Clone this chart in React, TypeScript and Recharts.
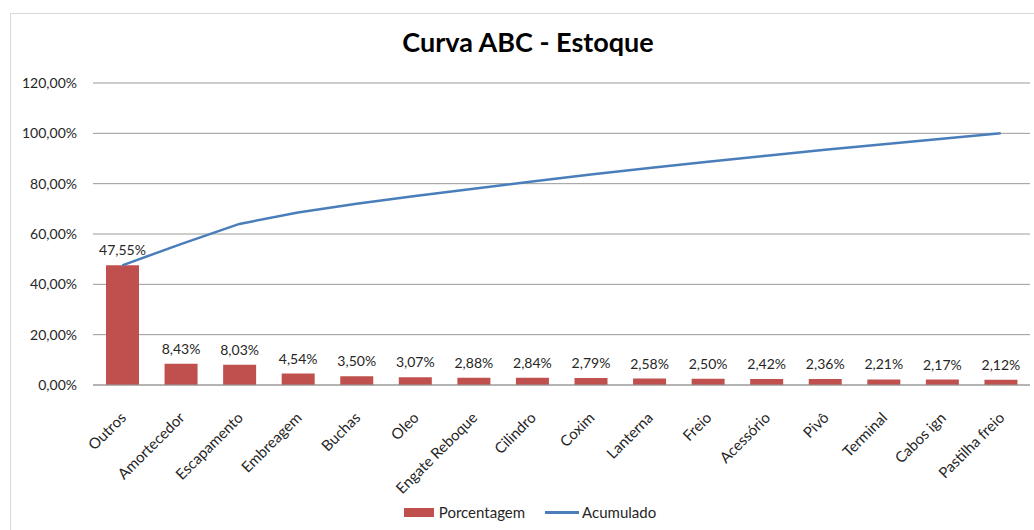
import {
  ComposedChart,
  Bar,
  Line,
  XAxis,
  YAxis,
  CartesianGrid,
  Legend,
  LabelList,
} from 'recharts';

const categorias = [
  'Outros',
  'Amortecedor',
  'Escapamento',
  'Embreagem',
  'Buchas',
  'Oleo',
  'Engate Reboque',
  'Cilindro',
  'Coxim',
  'Lanterna',
  'Freio',
  'Acessório',
  'Pivô',
  'Terminal',
  'Cabos ign',
  'Pastilha freio',
];

const porcentagem = [
  47.55, 8.43, 8.03, 4.54, 3.5, 3.07, 2.88, 2.84, 2.79, 2.58, 2.5, 2.42, 2.36,
  2.21, 2.17, 2.12,
];

const acumulado = [
  47.55, 55.98, 64.01, 68.55, 72.05, 75.12, 78.0, 80.84, 83.63, 86.21, 88.71,
  91.13, 93.49, 95.7, 97.87, 100.0,
];

const yTicks = [0, 20, 40, 60, 80, 100, 120];

const data = categorias.map((nome, i) => ({
  nome,
  porcentagem: porcentagem[i],
  acumulado: acumulado[i],
}));

const fonte = 'Lato, "Open Sans", sans-serif';
const corTexto = '#262626';
const corBarra = '#C0504D';
const corLinha = '#4A7EBB';

const fmt = (v: number) => `${v.toFixed(2).replace('.', ',')}%`;

function TickX(props: any) {
  const { x, y, payload } = props;
  return (
    <g transform={`translate(${x + 1},${y + 22})`}>
      <text
        x={0}
        y={0}
        dy="0.35em"
        textAnchor="end"
        transform="rotate(-45)"
        fill={corTexto}
        fontSize={15}
        fontFamily={fonte}
      >
        {payload.value}
      </text>
    </g>
  );
}

function Legenda(props: any) {
  const itens = [...(props.payload || [])].sort((a: any, b: any) =>
    a.type === 'rect' ? -1 : b.type === 'rect' ? 1 : 0
  );
  return (
    <div
      style={{
        display: 'flex',
        justifyContent: 'center',
        alignItems: 'center',
        height: 24,
        paddingLeft: 50,
        fontFamily: fonte,
        fontSize: 15,
        color: corTexto,
      }}
    >
      {itens.map((item: any) => (
        <div
          key={item.value}
          style={{ display: 'flex', alignItems: 'center', marginRight: 20 }}
        >
          {item.type === 'rect' ? (
            <span
              style={{
                display: 'inline-block',
                width: 30,
                height: 9,
                background: item.color,
                marginRight: 5,
              }}
            />
          ) : (
            <span
              style={{
                display: 'inline-block',
                width: 34,
                height: 3,
                background: item.color,
                marginRight: 3,
              }}
            />
          )}
          {item.value}
        </div>
      ))}
    </div>
  );
}

export default function App() {
  return (
    <div
      style={{
        position: 'absolute',
        left: 0,
        top: 0,
        width: 1034,
        height: 530,
        overflow: 'hidden',
        background: '#fff',
      }}
    >
      <div
        style={{
          position: 'absolute',
          left: 10,
          top: 13,
          width: 1100,
          height: 600,
          border: '1px solid #d9d9d9',
        }}
      />
      <div
        style={{
          position: 'absolute',
          left: 11,
          top: 25,
          width: 1034,
          textAlign: 'center',
          fontFamily: fonte,
          fontWeight: 700,
          fontSize: 27,
          color: '#000',
        }}
      >
        Curva ABC - Estoque
      </div>
      <div style={{ position: 'absolute', left: 0, top: 0 }}>
        <ComposedChart
          width={1034}
          height={530}
          data={data}
          margin={{ top: 83, right: 4, left: 0, bottom: 6 }}
        >
          <CartesianGrid vertical={false} stroke="#9a9a9a" strokeWidth={1} />
          <XAxis
            dataKey="nome"
            interval={0}
            height={115}
            tickLine={false}
            axisLine={{ stroke: '#9a9a9a' }}
            tick={<TickX />}
          />
          <YAxis
            domain={[0, 120]}
            ticks={yTicks}
            width={93}
            axisLine={false}
            tickLine={false}
            tickMargin={10}
            tickFormatter={fmt}
            tick={{ fill: corTexto, fontSize: 14, fontFamily: fonte }}
          />
          <Legend verticalAlign="bottom" content={<Legenda />} />
          <Bar
            dataKey="porcentagem"
            name="Porcentagem"
            fill={corBarra}
            barSize={33}
            legendType="rect"
            isAnimationActive={false}
          >
            <LabelList
              dataKey="porcentagem"
              position="top"
              offset={10}
              formatter={(v: any) => fmt(Number(v))}
              fill={corTexto}
              fontSize={14}
              fontFamily={fonte}
            />
          </Bar>
          <Line
            dataKey="acumulado"
            name="Acumulado"
            type="linear"
            stroke={corLinha}
            strokeWidth={2.5}
            dot={false}
            activeDot={false}
            legendType="plainline"
            isAnimationActive={false}
          />
        </ComposedChart>
      </div>
    </div>
  );
}
